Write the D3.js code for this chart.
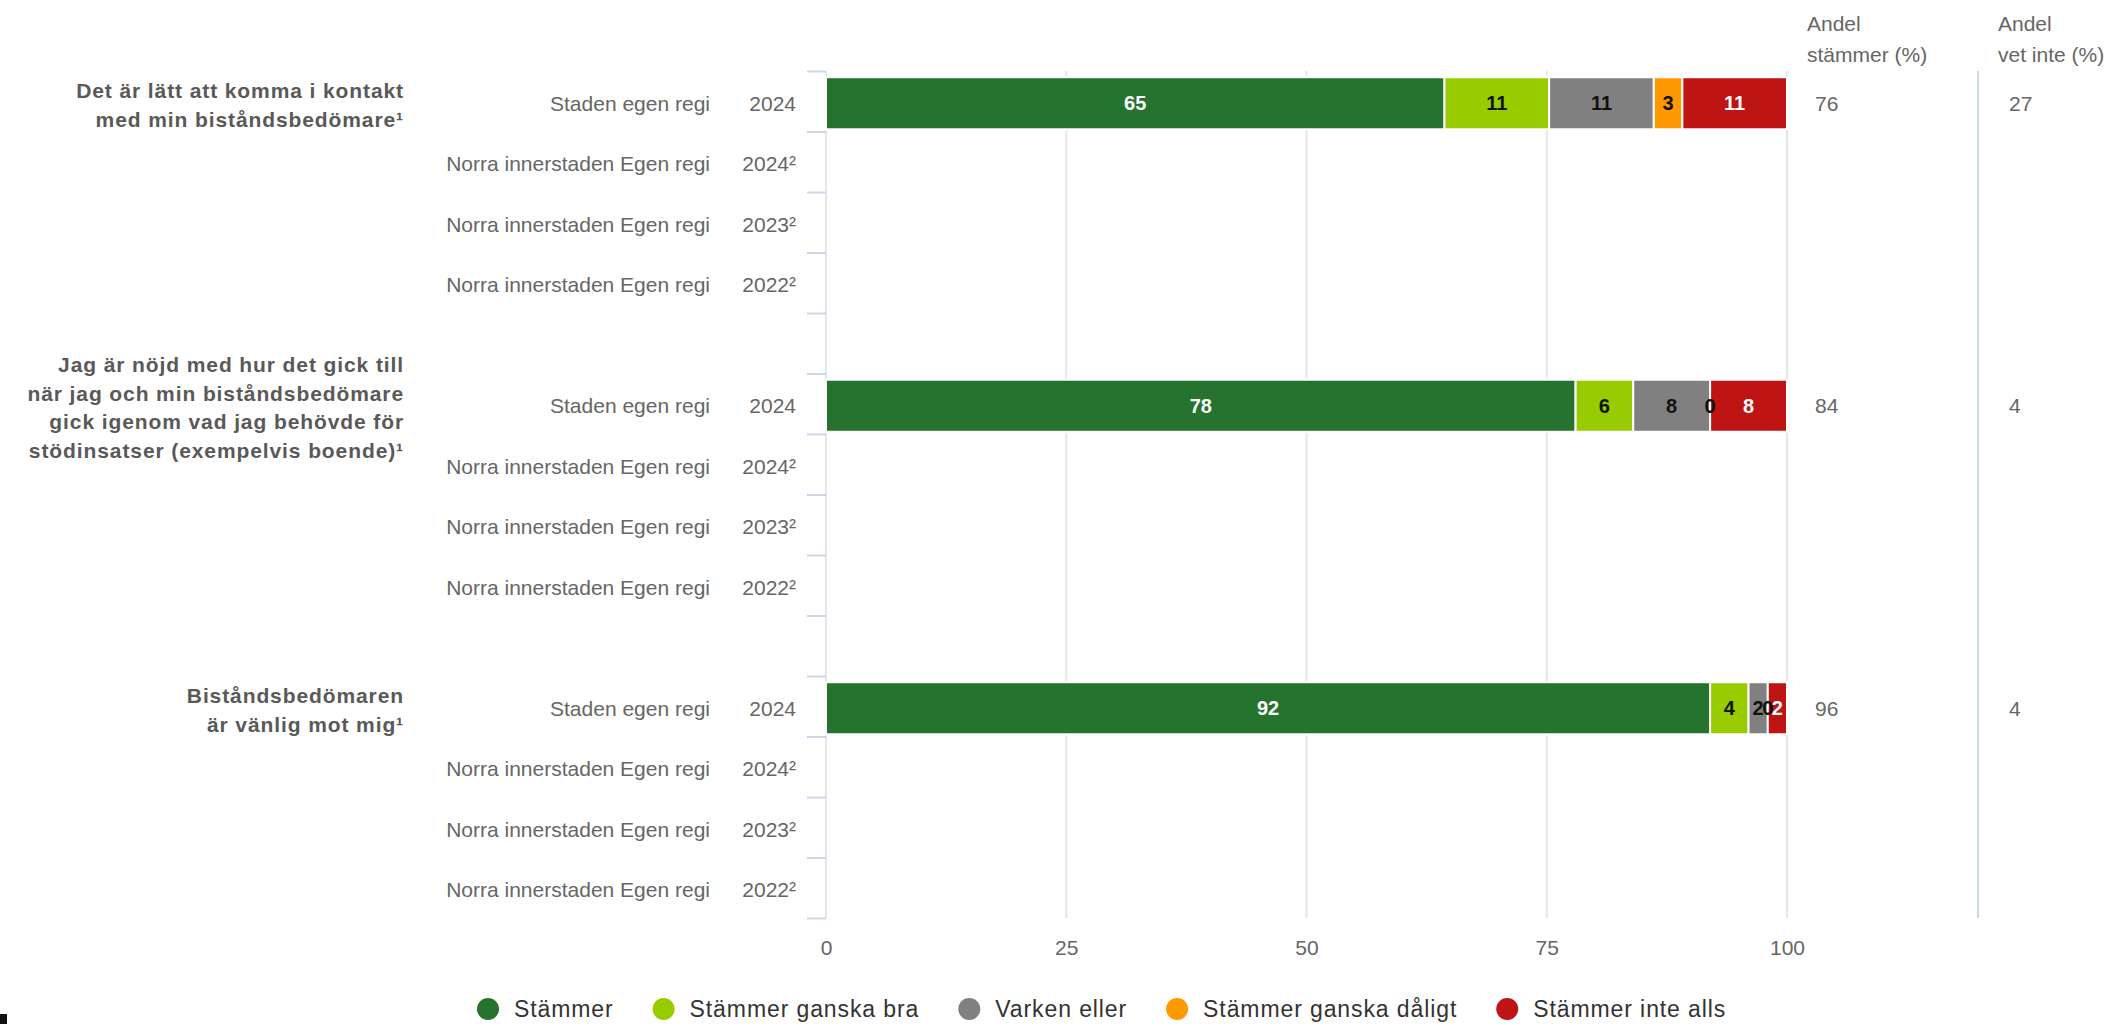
<!DOCTYPE html>
<html>
<head>
<meta charset="utf-8">
<script src="https://cdn.jsdelivr.net/npm/d3@7"></script>
<style>
  body { margin: 0; background: #fff; }
  svg { font-family: "Liberation Sans", Arial, sans-serif; }
</style>
</head>
<body>
<svg id="chart"></svg>
<script>
// questions (group labels), split in lines
let questions = [
    ["Det är lätt att komma i kontakt", "med min biståndsbedömare¹"],
    ["Jag är nöjd med hur det gick till", "när jag och min biståndsbedömare", "gick igenom vad jag behövde för", "stödinsatser (exempelvis boende)¹"],
    ["Biståndsbedömaren", "är vänlig mot mig¹"]
];
let units = ["Staden egen regi", "Norra innerstaden Egen regi", "Norra innerstaden Egen regi", "Norra innerstaden Egen regi"];
let years = ["2024", "2024²", "2023²", "2022²"];

let seriesNames = ["Stämmer", "Stämmer ganska bra", "Varken eller", "Stämmer ganska dåligt", "Stämmer inte alls"];
let seriesColors = ["#26732f", "#99cc00", "#808080", "#ff9900", "#bf1414"];
let labelColors = ["#ffffff", "#111111", "#111111", "#111111", "#ffffff"];

// values per question, only the "Staden egen regi 2024" row has data
let stammer = [65, 78, 92];
let ganskaBra = [11, 6, 4];
let varkenEller = [11, 8, 2];
let ganskaDaligt = [3, 0, 0];
let inteAlls = [11, 8, 2];

let andelStammer = [76, 84, 96];
let andelVetInte = [27, 4, 4];

let xTicks = [0, 25, 50, 75, 100];

let width = 2121, height = 1024;
let svg = d3.select('#chart').attr('width', width).attr('height', height);

// row keys: 4 rows per question and an empty row between questions
let rowKeys = [];
questions.forEach(function (q, qi) {
    years.forEach(function (yr, ri) { rowKeys.push(qi + '-' + ri); });
    if (qi < questions.length - 1) rowKeys.push('gap-' + qi);
});

let plotTop = 71, plotBottom = 918;
let xScale = d3.scaleLinear().domain([0, 100]).range([826, 1787]);
let yScale = d3.scaleBand().domain(rowKeys).range([plotTop, plotBottom]).paddingInner(0.14).paddingOuter(0.07);
let yCenter = function (k) { return yScale(k) + yScale.bandwidth() / 2 + 2; };

// vertical grid
svg.append('g').selectAll('line')
    .data(xTicks)
    .enter().append('line')
    .attr('x1', d => xScale(d)).attr('x2', d => xScale(d))
    .attr('y1', plotTop).attr('y2', plotBottom)
    .attr('stroke', '#e6e6e6').attr('stroke-width', 2);

// left ticks between categories
let tickIdx = d3.scaleLinear().domain([0, rowKeys.length]).range([plotTop, plotBottom]);
let yAxis = d3.axisLeft(tickIdx).tickValues(d3.range(rowKeys.length + 1)).tickSize(19).tickFormat('');
let yAxisG = svg.append('g').attr('transform', 'translate(826,0)').call(yAxis);
yAxisG.select('.domain').remove();
yAxisG.selectAll('.tick line').attr('stroke', '#ccd6eb').attr('stroke-width', 2);

// x axis labels
let xAxis = d3.axisBottom(xScale).tickValues(xTicks).tickSize(0).tickPadding(22);
let xAxisG = svg.append('g').attr('transform', 'translate(0,' + plotBottom + ')').call(xAxis);
xAxisG.select('.domain').remove();
xAxisG.selectAll('text').attr('fill', '#666666').style('font-size', '21px')
    .style('font-family', '"Liberation Sans", Arial, sans-serif');

// right separator line
svg.append('line')
    .attr('x1', 1978).attr('x2', 1978).attr('y1', plotTop).attr('y2', plotBottom)
    .attr('stroke', '#ccd6eb').attr('stroke-width', 2);

// row labels
let rowG = svg.append('g').style('font-size', '21px').attr('fill', '#666666');
questions.forEach(function (q, qi) {
    years.forEach(function (yr, ri) {
        let k = qi + '-' + ri;
        rowG.append('text').attr('x', 710).attr('y', yCenter(k)).attr('dy', '0.35em')
            .attr('text-anchor', 'end').text(units[ri]);
        rowG.append('text').attr('x', 796).attr('y', yCenter(k)).attr('dy', '0.35em')
            .attr('text-anchor', 'end').text(yr);
    });
    // question label, centered on the first row
    let lh = 28.5;
    let y0 = yCenter(qi + '-0') - (q.length - 1) * lh / 2 + 2;
    q.forEach(function (line, li) {
        svg.append('text').attr('x', 404).attr('y', y0 + li * lh).attr('dy', '0.35em')
            .attr('text-anchor', 'end').attr('fill', '#595959')
            .style('font-size', '21px').style('font-weight', 'bold').style('letter-spacing', '0.9px')
            .text(line);
    });
});

// stacked bars
let seriesValues = [stammer, ganskaBra, varkenEller, ganskaDaligt, inteAlls];
let segments = [];
questions.forEach(function (q, qi) {
    let total = d3.sum(seriesValues, s => s[qi]);
    let acc = 0;
    seriesValues.forEach(function (s, si) {
        let v = s[qi];
        let start = acc / total * 100;
        acc += v;
        let end = acc / total * 100;
        segments.push({key: qi + '-0', si: si, value: v, start: start, end: end});
    });
});

svg.append('g').selectAll('rect')
    .data(segments.filter(d => d.value > 0))
    .enter().append('rect')
    .attr('x', d => xScale(d.start))
    .attr('y', d => yCenter(d.key) - yScale.bandwidth() / 2)
    .attr('width', d => xScale(d.end) - xScale(d.start))
    .attr('height', yScale.bandwidth())
    .attr('fill', d => seriesColors[d.si])
    .attr('stroke', '#ffffff').attr('stroke-width', 2);

svg.append('g').selectAll('text')
    .data(segments)
    .enter().append('text')
    .attr('x', d => xScale((d.start + d.end) / 2))
    .attr('y', d => yCenter(d.key))
    .attr('dy', '0.35em')
    .attr('text-anchor', 'middle')
    .attr('fill', d => labelColors[d.si])
    .style('font-size', '20px').style('font-weight', 'bold')
    .text(d => d.value);

// right columns
let colG = svg.append('g').style('font-size', '21px').attr('fill', '#666666');
colG.append('text').attr('x', 1807).attr('y', 31).text('Andel');
colG.append('text').attr('x', 1807).attr('y', 62).text('stämmer (%)');
colG.append('text').attr('x', 1998).attr('y', 31).text('Andel');
colG.append('text').attr('x', 1998).attr('y', 62).text('vet inte (%)');
questions.forEach(function (q, qi) {
    colG.append('text').attr('x', 1815).attr('y', yCenter(qi + '-0')).attr('dy', '0.35em').text(andelStammer[qi]);
    colG.append('text').attr('x', 2009).attr('y', yCenter(qi + '-0')).attr('dy', '0.35em').text(andelVetInte[qi]);
});

// legend
let legend = svg.append('g').attr('transform', 'translate(0,1009)');
let lx = 488;
seriesNames.forEach(function (name, i) {
    let item = legend.append('g').attr('transform', 'translate(' + lx + ',0)');
    item.append('circle').attr('r', 11).attr('fill', seriesColors[i]);
    let t = item.append('text').attr('x', 26).attr('dy', '0.35em')
        .attr('fill', '#333333').style('font-size', '23px').style('letter-spacing', '0.9px').text(name);
    lx += 26 + t.node().getComputedTextLength() + 50;
});

// small dark mark in the bottom left corner
svg.append('rect').attr('x', 0).attr('y', 1014).attr('width', 7).attr('height', 10).attr('fill', '#111');
</script>
</body>
</html>
